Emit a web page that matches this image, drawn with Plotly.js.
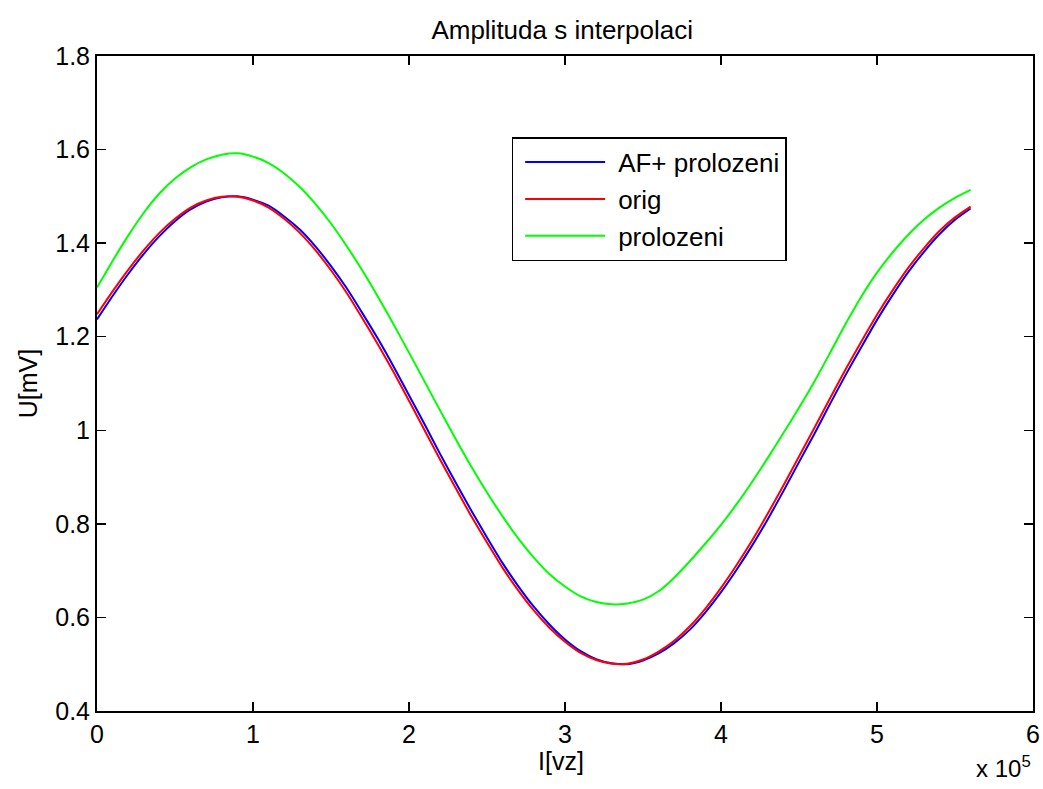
<!DOCTYPE html>
<html>
<head>
<meta charset="utf-8">
<script src="https://cdn.plot.ly/plotly-3.0.1.min.js"></script>
<style>html,body{margin:0;padding:0;background:#fff;}#chart{width:1043px;height:789px;}</style>
</head>
<body>
<div id="chart"></div>
<script>
// x positions (x 10^5 samples)
const xVals = [0,0.1,0.2,0.3,0.4,0.5,0.6,0.7,0.8,0.9,1.0,1.1,1.2,1.3,1.4,1.5,1.6,1.7,1.8,1.9,2.0,2.1,2.2,2.3,2.4,2.5,2.6,2.7,2.8,2.9,3.0,3.1,3.2,3.3,3.4,3.5,3.6,3.7,3.8,3.9,4.0,4.1,4.2,4.3,4.4,4.5,4.6,4.7,4.8,4.9,5.0,5.1,5.2,5.3,5.4,5.5,5.6];

const afProlozeni = [1.237,1.287,1.334,1.377,1.415,1.447,1.472,1.489,1.498,1.500,1.493,1.480,1.457,1.429,1.393,1.351,1.304,1.251,1.196,1.137,1.075,1.013,0.949,0.888,0.828,0.771,0.716,0.667,0.623,0.585,0.553,0.528,0.511,0.502,0.500,0.508,0.523,0.545,0.574,0.611,0.654,0.702,0.754,0.810,0.870,0.932,0.993,1.057,1.119,1.178,1.236,1.289,1.338,1.381,1.419,1.450,1.474];

const orig = [1.248,1.297,1.343,1.385,1.422,1.452,1.476,1.491,1.499,1.499,1.491,1.476,1.452,1.422,1.385,1.342,1.294,1.240,1.184,1.125,1.063,1.000,0.937,0.876,0.816,0.760,0.706,0.658,0.615,0.578,0.548,0.524,0.509,0.501,0.501,0.510,0.527,0.550,0.581,0.619,0.663,0.712,0.765,0.822,0.882,0.944,1.006,1.069,1.131,1.190,1.247,1.299,1.347,1.389,1.426,1.455,1.478];

const prolozeni = [1.305,1.362,1.416,1.465,1.506,1.538,1.562,1.579,1.589,1.592,1.585,1.571,1.549,1.520,1.484,1.442,1.394,1.342,1.286,1.227,1.166,1.104,1.042,0.981,0.922,0.867,0.816,0.769,0.728,0.693,0.666,0.645,0.633,0.628,0.630,0.638,0.656,0.685,0.720,0.758,0.798,0.842,0.890,0.941,0.994,1.048,1.105,1.166,1.228,1.286,1.337,1.380,1.418,1.450,1.476,1.497,1.514];

const seriesNames = ['AF+ prolozeni','orig','prolozeni'];
const xTicks = [0,1,2,3,4,5,6];
const yTicks = [0.4,0.6,0.8,1.0,1.2,1.4,1.6,1.8];
const yTickText = ['0.4','0.6','0.8','1','1.2','1.4','1.6','1.8'];

const FONT = 'Liberation Sans, Arial, sans-serif';

const traces = [
  {x:xVals, y:afProlozeni, name:seriesNames[0], mode:'lines', line:{color:'#0000ff', width:2, shape:'spline', smoothing:0.6}},
  {x:xVals, y:orig, name:seriesNames[1], mode:'lines', line:{color:'#ff0000', width:2, shape:'spline', smoothing:0.6}},
  {x:xVals, y:prolozeni, name:seriesNames[2], mode:'lines', line:{color:'#00ff00', width:2, shape:'spline', smoothing:0.6}}
];

const axisCommon = {
  showgrid:false, zeroline:false, showline:true, linecolor:'#000', linewidth:2,
  mirror:'ticks', ticks:'inside', ticklen:9, tickwidth:1.5, tickcolor:'#000',
  tickfont:{family:FONT, size:25, color:'#000'}
};

const layout = {
  width:1043, height:789,
  margin:{l:97, r:10, t:56, b:78},
  paper_bgcolor:'#fff', plot_bgcolor:'#fff',
  title:{text:'Amplituda s interpolaci', font:{family:FONT, size:26, color:'#000'}, x:0.539, xanchor:'center', y:0.962, yanchor:'middle'},
  xaxis:Object.assign({}, axisCommon, {
    range:[0,6], tickmode:'array', tickvals:xTicks, ticktext:xTicks.map(String)
  }),
  yaxis:Object.assign({}, axisCommon, {
    range:[0.4,1.8], tickmode:'array', tickvals:yTicks, ticktext:yTickText,
    title:{text:'U[mV]', font:{family:FONT, size:25, color:'#000'}, standoff:10}
  }),
  showlegend:true,
  legend:{x:0.443, y:0.876, xanchor:'left', yanchor:'top', bgcolor:'#fff', bordercolor:'#000', borderwidth:1.5,
          font:{family:FONT, size:26, color:'#000'}, itemwidth:95, tracegroupgap:0},
  annotations:[
    {xref:'paper', yref:'paper', x:0.496, y:-0.076, xanchor:'center', yanchor:'middle', showarrow:false,
     text:'I[vz]', font:{family:FONT, size:25, color:'#000'}},
    {xref:'paper', yref:'paper', x:1.0, y:-0.112, xanchor:'right', yanchor:'bottom', showarrow:false,
     text:'x 10<sup>5</sup>', font:{family:FONT, size:24, color:'#000'}}
  ]
};

Plotly.newPlot('chart', traces, layout, {displayModeBar:false, staticPlot:true}).then(function(){
  // lengthen legend line samples to resemble the reference
  document.querySelectorAll('.legendlines path').forEach(function(p){ p.setAttribute('d','M12,0h80'); });
});
</script>
</body>
</html>
